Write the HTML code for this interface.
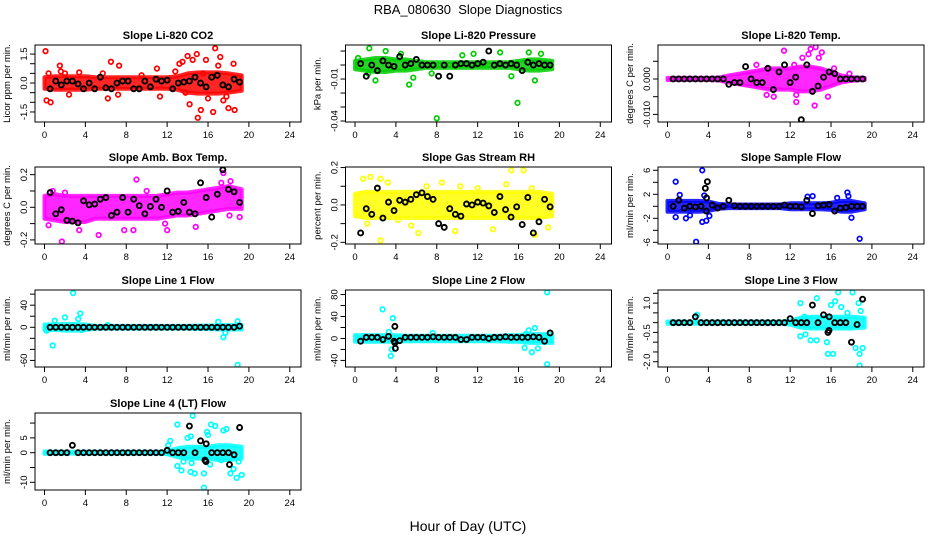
<!DOCTYPE html>
<html><head><meta charset="utf-8">
<style>
html,body{margin:0;padding:0;background:#fff;}
svg{display:block;font-family:"Liberation Sans",sans-serif;}
</style></head>
<body>
<svg id="chart" width="936" height="540" viewBox="0 0 936 540">
<rect width="936" height="540" fill="#fff"/>
<text x="468" y="14" font-size="13" text-anchor="middle" xml:space="preserve">RBA_080630  Slope Diagnostics</text>
<text x="468" y="531" font-size="14" text-anchor="middle">Hour of Day (UTC)</text>
</svg>
<script>
// ---- shared x axis data ----
const xTicks = [0,4,8,12,16,20,24];
// black (averaged) points are at regular times
const blackTimes = [0.55,1.1,1.64,2.19,2.73,3.28,3.82,4.37,4.91,5.46,6.0,6.55,7.09,7.64,8.18,8.73,9.27,9.82,10.36,10.91,11.45,12.0,12.54,13.09,13.63,14.18,14.73,15.27,15.82,16.36,16.91,17.45,18.0,18.55,19.09];
// band hours for dense coloured cloud
const bandHours = [0,1,2,3,4,5,6,7,8,9,10,11,12,13,14,15,16,17,18,19.3];

// ---- panel 1: CO2 ----
const co2Black = [-0.3,0.1,-0.1,0.1,0.1,-0.05,-0.3,0,-0.3,0.3,-0.25,-0.3,0,0.1,0.1,-0.3,-0.3,0.1,-0.2,0.2,0.1,0.15,-0.3,0,0.05,0.1,0.3,0,-0.2,0.3,0.4,-0.1,-0.2,0.2,0.05];
const co2Spread = [0.3,0.35,0.35,0.35,0.35,0.3,0.3,0.3,0.3,0.3,0.3,0.3,0.3,0.35,0.5,0.55,0.55,0.55,0.5,0.4];
const co2Center = [0,0,0,0,0,0,0,0,0,0,0,0,0,0,0,0,0,0,0,0];
const co2Out = [[0.1,1.65],[0.2,-0.9],[0.6,-1.0],[1.5,0.9],[1.6,0.6],[2,0.5],[2.4,-0.6],[3.4,0.55],[6.2,-0.8],[6.5,1.1],[7.3,0.9],[7.2,-0.6],[11,0.75],[11.3,-0.7],[13.2,1.0],[13.5,1.1],[14,1.4],[14.2,-1.1],[14.5,1.2],[14.9,1.5],[15,-1.8],[15.3,-1.4],[15.8,1.2],[16.7,1.8],[16.5,-1.5],[17.2,1.35],[17,0.9],[17.5,-0.9],[18,-1.3],[18.6,-1.4],[18.5,1.0],[16,-0.8],[17.8,-0.7],[12.8,0.6],[15.5,0.5],[13.8,-0.5],[0.4,0.5],[5.7,0.5],[9.5,0.4]];
// ---- panel 2: Pressure ----
const presBlack = [0.001,-0.008,0,-0.004,0.003,0,-0.001,0.006,0,0.001,0.004,0,0,0,-0.008,0,-0.008,0,0.001,0.001,0,0.001,0.002,0.01,0,0.001,0,0.001,0,-0.004,0.002,0,0.001,0,0];
const presSpread = [0.003,0.004,0.005,0.005,0.004,0.004,0.003,0.002,0.002,0.002,0.002,0.002,0.002,0.002,0.002,0.002,0.003,0.004,0.004,0.003];
const presCenter = [0,0,0,0,0,0,0,0,0,0,0,0,0,0,0,0,0,0,0,0];
const presOut = [[1.4,0.012],[2.0,-0.011],[5.3,-0.014],[8,-0.038],[15.9,-0.027],[17.6,-0.011],[17,0.009],[14.2,0.009],[11.6,0.008],[18.2,0.008],[4.5,0.008],[3,0.01],[15.3,-0.008],[5.7,-0.009],[0.3,0.005],[1.3,-0.006],[10.5,0.007],[7.5,-0.006]];
// ---- panel 3: Li-820 Temp ----
const tempBlack = [0,0,0,0,0,0,0,0,0,0,-0.0015,-0.001,-0.001,0.0035,0,-0.001,-0.001,0.003,-0.003,0.002,0.004,-0.001,0.0005,-0.0115,0.004,-0.0035,-0.002,0.0005,0.002,0.0015,0,0,0,0,0];
const tempSpread = [0.0003,0.0003,0.0003,0.0003,0.0003,0.0004,0.001,0.0015,0.002,0.0025,0.003,0.003,0.003,0.0035,0.0035,0.003,0.002,0.001,0.0005,0.0003];
const tempCenter = [0,0,0,0,0,0,0,0,0,0,0,0,0,0,0,0,0,0,0,0];
const tempOut = [[11.4,0.008],[14,0.0085],[14.5,0.009],[15.1,0.0075],[13.2,0.006],[9.7,-0.0045],[12.6,-0.0045],[12.6,-0.0065],[14.4,-0.0075],[10.4,-0.005],[15.7,-0.005],[8.7,0.004],[13.8,0.007],[16.3,0.003],[17.8,0.0015],[14.8,0.006],[12.4,0.004]];
// ---- panel 4: Amb box temp ----
const ambBlack = [0.09,-0.04,-0.015,-0.08,-0.085,-0.095,0.04,0.015,0.02,0.05,0.06,-0.05,-0.03,0.06,-0.03,0.05,0.01,-0.04,0.005,0.05,0,0.1,-0.03,-0.025,0.03,-0.03,-0.04,0.15,0.06,-0.06,0.08,0.23,0.11,0.095,0.03];
const ambSpread = [0.07,0.08,0.08,0.08,0.08,0.07,0.07,0.07,0.07,0.07,0.07,0.07,0.07,0.07,0.07,0.07,0.07,0.07,0.07,0.06];
const ambCenter = [0,0,-0.01,-0.01,-0.01,0,0,0,0,0,0,0,0.01,0.02,0.02,0.03,0.04,0.05,0.06,0.05];
const ambOut = [[1.7,-0.21],[5.3,-0.17],[3.4,-0.14],[7.8,-0.14],[0.4,-0.11],[9,0.17],[17.5,0.21],[17.3,0.15],[18.2,0.16],[2,0.09],[12,-0.14],[14.8,-0.12],[18.1,-0.05],[19.1,-0.06],[8.7,-0.14],[10,0.1],[0.8,0.1],[11.8,-0.1]];
// ---- panel 5: Gas stream RH ----
const rhBlack = [-0.15,-0.02,-0.05,0.09,-0.07,0.015,-0.03,0.025,0.015,0.03,0.055,0.065,0.045,0.03,-0.1,-0.12,-0.02,-0.05,-0.06,0.005,0,0.015,0.01,-0.005,-0.04,0.045,-0.025,-0.065,-0.01,-0.105,0.04,-0.15,-0.09,0.03,-0.01];
const rhSpread = [0.06,0.07,0.07,0.07,0.07,0.07,0.07,0.07,0.07,0.07,0.07,0.07,0.07,0.07,0.07,0.07,0.07,0.07,0.07,0.06];
const rhCenter = [0,0,0,0,0,0,0,0,0,0,0,0,0,0,0,0,0,0,0,0];
const rhOut = [[2.5,-0.19],[15.3,0.185],[16.5,0.185],[0.8,0.14],[1.5,0.15],[2.5,0.14],[4.2,-0.08],[5.5,-0.11],[6.2,-0.15],[8.5,0.12],[9.8,-0.14],[13.5,-0.13],[17.6,-0.16],[18.9,-0.12],[1.2,-0.1],[10.3,0.1],[14.8,0.11],[17.3,0.09],[3.2,0.12],[7,0.1],[12,0.09]];
// ---- panel 6: Sample flow ----
const sampBlack = [0,1.0,-0.3,0,-0.1,0,1.4,0.2,-0.3,0,1.0,0.1,0,0,0,0,0,0,0,0,0.2,0,0,-0.1,1.0,-1.2,0.1,0.2,0.3,-0.8,-0.3,-0.2,0,0,0];
const sampBlackOut = [[3.9,4.1],[3.7,3.0],[3.8,-0.8]];
const sampSpread = [0.9,0.9,0.9,0.9,0.8,0.4,0.3,0.3,0.3,0.3,0.3,0.3,0.5,0.5,0.5,0.5,0.6,0.9,0.9,0.5];
const sampCenter = [0,0,0,0,0,0,0,0,0,0,0,0,0,0,0,0,0,0,0,0];
const sampOut = [[0.8,4.1],[3.4,6],[2.8,-5.9],[18.8,-5.4],[3.4,-2.6],[3.8,-2.4],[1.8,-2],[0.8,-1.8],[1.2,1.9],[17.6,2.3],[17.7,1.7],[18,-1.9],[13.7,1.6],[14.2,1.7],[16.6,1.4],[2.2,-1.5],[3.6,1.8],[4.1,-1.6]];
// ---- panel 7: Line 1 flow ----
const l1Black = [0,0,0,0,0,0,0,0,0,0,0,0,0,0,0,0,0,0,0,0,0,0,0,0,0,0,0,0,0,0,0,0,0,0,2];
const l1Spread = [5,5,6,6,5,2.5,2.5,2.5,2.5,2.5,2.5,2.5,2.5,2.5,2.5,3,3,4,4,4];
const l1Center = [0,0,0,0,0,0,0,0,0,0,0,0,0,0,0,0,0,0,0,0];
const l1Out = [[2.8,62],[0.8,-33],[3.5,25],[3.3,15],[2,18],[1,12],[17.5,-18],[18.9,-68],[17,10],[18.9,11],[0.2,-6],[6.2,4],[3.6,-5],[17.7,-10]];
// ---- panel 8: Line 2 flow ----
const l2Black = [-5,2,2,2,-2,4,-5,-4,2,2,2,2,2,3,2,2,2,2,-2,-2,2,2,2,0,2,2,3,2,2,2,2,3,2,-5,10];
const l2BlackOut = [[3.9,22],[3.95,-18],[3.9,-8]];
const l2Spread = [6,6,6,6,6,5,5,5,5,5,5,5,5,5,5,6,6,8,8,8];
const l2Center = [0,0,0,0,0,0,0,0,0,0,0,0,0,0,0,0,0,0,0,0];
const l2Out = [[2.7,53],[3.7,37],[3.5,-32],[3.6,-20],[18.8,84],[18.8,-47],[17,15],[17.6,19],[16.6,-17],[17.3,-25],[17.9,-18],[3.3,12],[16.7,8],[18.3,-3],[7.6,10]];
// ---- panel 9: Line 3 flow ----
const l3Black = [0,0,0,0,0.3,0,0,0,0,0,0,0,0,0,0,0,0,0,0,0,0,0.2,0,0,0,0.9,0,0.4,0.3,0,0,0,-1.0,-0.1,1.2];
const l3BlackOut = [[15.8,-0.4],[15.7,-0.5]];
const l3Spread = [0.06,0.06,0.05,0.05,0.05,0.05,0.05,0.05,0.05,0.05,0.05,0.05,0.1,0.25,0.3,0.3,0.3,0.3,0.3,0.25];
const l3Center = [0,0,0,0,0,0,0,0,0,0,0,0,0,0,0,0,0,0,0,0];
const l3Out = [[13.0,1.0],[14.6,1.25],[16.7,1.55],[18.1,1.55],[16,0.9],[16.4,1.1],[18.7,1.0],[15.7,-1.6],[16.2,-1.6],[18.8,-1.6],[18.8,-2.2],[13,-0.7],[14,-0.9],[14.6,-0.9],[15.6,-1.0],[18.4,-1.3],[19.1,-1.3],[17.6,0.5],[18.9,0.6],[13.5,-0.6],[17,0.8],[13.4,0.3],[2.9,0.4]];
// ---- panel 10: Line 4 flow ----
const l4Black = [0,0,0,0,2.5,0,0,0,0,0,0,0,0,0,0,0,0,0,0,0,0,0.8,0,0,0,9,0,4,3,0,0,0,0,-0.7,8.5];
const l4BlackOut = [[15.8,-3],[15.7,-2.5],[18.1,-4]];
const l4Spread = [0.4,0.3,0.3,0.3,0.3,0.3,0.3,0.3,0.3,0.3,0.3,0.3,0.5,1.5,2,2,2,2.5,2.5,2];
const l4Center = [0,0,0,0,0,0,0,0,0,0,0,0,0,0,0,0,0,0,0,0];
const l4Out = [[14.5,12.5],[13,9.5],[16.3,9.5],[16.7,9],[17.5,7.5],[17.8,8],[15.9,7],[16,6],[14,5],[14.3,5.5],[12.3,4],[12.1,2.5],[13,-4.5],[13.4,-6],[14.3,-6.5],[14.7,-7],[15.6,-7],[15.6,-11.8],[18.2,-7],[18.8,-8.5],[19.3,-7.5],[19,-3],[16.2,-4],[17.3,-2.5],[13.6,-3],[14.4,-3.5],[18.5,-5.5]];

const panels = [
 {name:'co2',title:'Slope Li-820 CO2',ylab:'Licor ppm per min.',L:35,T:45,ymin:-2.02,ymax:1.97,color:'#ff0000',ticks:[-1.5,-1,-0.5,0,0.5,1,1.5],labels:{'-1.5':'-1.5','0':'0.0','1.5':'1.5'},black:co2Black,bo:[],spread:co2Spread,center:co2Center,out:co2Out},
 {name:'pressure',title:'Slope Li-820 Pressure',ylab:'kPa per min.',L:345.5,T:45,ymin:-0.0407,ymax:0.0143,color:'#00cc00',ticks:[0.01,0,-0.01,-0.02,-0.03,-0.04],labels:{'-0.01':'-0.01','-0.04':'-0.04'},black:presBlack,bo:[],spread:presSpread,center:presCenter,out:presOut},
 {name:'li820-temp',title:'Slope Li-820 Temp.',ylab:'degrees C per min.',L:658,T:45,ymin:-0.01215,ymax:0.0096,color:'#ff00ff',ticks:[0.005,0,-0.005,-0.01],labels:{'0':'0.000','-0.01':'-0.010'},black:tempBlack,bo:[],spread:tempSpread,center:tempCenter,out:tempOut},
 {name:'amb-box-temp',title:'Slope Amb. Box Temp.',ylab:'degrees C per min.',L:35,T:167,ymin:-0.225,ymax:0.247,color:'#ff00ff',ticks:[0.2,0.1,0,-0.1,-0.2],labels:{'0.2':'0.2','0':'0.0','-0.2':'-0.2'},black:ambBlack,bo:[],spread:ambSpread,center:ambCenter,out:ambOut},
 {name:'gas-stream-rh',title:'Slope Gas Stream RH',ylab:'percent per min.',L:345.5,T:167,ymin:-0.209,ymax:0.203,color:'#ffff00',ticks:[0.2,0.1,0,-0.1,-0.2],labels:{'0.2':'0.2','0':'0.0','-0.2':'-0.2'},black:rhBlack,bo:[],spread:rhSpread,center:rhCenter,out:rhOut},
 {name:'sample-flow',title:'Slope Sample Flow',ylab:'ml/min per min.',L:658,T:167,ymin:-6.28,ymax:6.55,color:'#0000ff',ticks:[6,4,2,0,-2,-4,-6],labels:{'6':'6','2':'2','-2':'-2','-6':'-6'},black:sampBlack,bo:sampBlackOut,spread:sampSpread,center:sampCenter,out:sampOut},
 {name:'line1-flow',title:'Slope Line 1 Flow',ylab:'ml/min per min.',L:35,T:290,ymin:-71.9,ymax:67.5,color:'#00ffff',ticks:[60,40,20,0,-20,-40,-60],labels:{'40':'40','0':'0','-60':'-60'},black:l1Black,bo:[],spread:l1Spread,center:l1Center,out:l1Out},
 {name:'line2-flow',title:'Slope Line 2 Flow',ylab:'ml/min per min.',L:345.5,T:290,ymin:-52,ymax:88.3,color:'#00ffff',ticks:[80,60,40,20,0,-20,-40],labels:{'80':'80','40':'40','0':'0','-40':'-40'},black:l2Black,bo:l2BlackOut,spread:l2Spread,center:l2Center,out:l2Out},
 {name:'line3-flow',title:'Slope Line 3 Flow',ylab:'ml/min per min.',L:658,T:290,ymin:-2.27,ymax:1.67,color:'#00ffff',ticks:[1.5,1,0.5,0,-0.5,-1,-1.5,-2],labels:{'1':'1.0','-0.5':'-0.5','-2':'-2.0'},black:l3Black,bo:l3BlackOut,spread:l3Spread,center:l3Center,out:l3Out},
 {name:'line4-flow',title:'Slope Line 4 (LT) Flow',ylab:'ml/min per min.',L:35,T:413,ymin:-12.6,ymax:13.4,color:'#00ffff',ticks:[10,5,0,-5,-10],labels:{'5':'5','0':'0','-10':'-10'},black:l4Black,bo:l4BlackOut,spread:l4Spread,center:l4Center,out:l4Out}
];

const NS='http://www.w3.org/2000/svg';
const svg=document.getElementById('chart');
const W=266,H=77;
function mk(tag,attrs,parent){const e=document.createElementNS(NS,tag);for(const k in attrs)e.setAttribute(k,attrs[k]);parent.appendChild(e);return e;}

panels.forEach(p=>{
  const g=mk('g',{},svg);
  
  
  const xs=t=>p.L+9.5+t*10.22;
  const ys=v=>p.T+H-(v-p.ymin)/(p.ymax-p.ymin)*H;
  const clip='clip-'+p.name;
  const cp=mk('clipPath',{id:clip},g);
  mk('rect',{x:p.L,y:p.T,width:W,height:H},cp);
  const plot=mk('g',{'clip-path':'url(#'+clip+')'},g);
  
  
  let up=[],dn=[];
  bandHours.forEach((h,i)=>{up.push(xs(h)+','+ys(p.center[i]+p.spread[i]));dn.unshift(xs(h)+','+ys(p.center[i]-p.spread[i]));});
  const band=mk('polygon',{points:up.concat(dn).join(' '),fill:p.color,'fill-opacity':0.85,stroke:p.color,'stroke-width':4,'stroke-opacity':0.85,'stroke-linejoin':'round'},plot);
  
  
  p.out.forEach(d=>{
    const c=mk('circle',{cx:xs(d[0]),cy:ys(d[1]),r:2.3,fill:'none',stroke:p.color,'stroke-width':1.7},plot);
    
    
  });
  p.black.forEach((v,i)=>{
    const c=mk('circle',{cx:xs(blackTimes[i]),cy:ys(v),r:2.5,fill:'none',stroke:'#000','stroke-width':1.9},plot);
    
    
  });
  p.bo.forEach(d=>{
    const c=mk('circle',{cx:xs(d[0]),cy:ys(d[1]),r:2.5,fill:'none',stroke:'#000','stroke-width':1.9},plot);
    
    
  });
  const fr=mk('rect',{x:p.L,y:p.T,width:W,height:H,fill:'none',stroke:'#000','stroke-width':1},g);
  
  
  const ti=mk('text',{x:p.L+W/2,y:p.T-6,'font-size':11,'font-weight':'bold','text-anchor':'middle'},g);
  ti.textContent=p.title;
  
  
  mk('line',{x1:xs(0),x2:xs(24),y1:p.T+H,y2:p.T+H,stroke:'#000'},g);
  xTicks.forEach(t=>{
    mk('line',{x1:xs(t),x2:xs(t),y1:p.T+H,y2:p.T+H+5,stroke:'#000'},g);
    const tx=mk('text',{x:xs(t),y:p.T+H+16,'font-size':9.5,'text-anchor':'middle'},g);
    tx.textContent=t;
    
    
  });
  const tv=p.ticks;
  mk('line',{x1:p.L,x2:p.L,y1:ys(Math.min(...tv)),y2:ys(Math.max(...tv)),stroke:'#000'},g);
  tv.forEach(v=>{
    const y=ys(v);
    mk('line',{x1:p.L-5,x2:p.L,y1:y,y2:y,stroke:'#000'},g);
    const key=String(v);
    if(p.labels[key]!==undefined){
      const tx=mk('text',{x:0,y:0,'font-size':9.5,'text-anchor':'middle',transform:'translate('+(p.L-8)+','+y+') rotate(-90)'},g);
      tx.textContent=p.labels[key];
      
      
    }
  });
  const yl=mk('text',{x:0,y:0,'font-size':9.5,'text-anchor':'middle',transform:'translate('+(p.L-25)+','+(p.T+H/2)+') rotate(-90)'},g);
  yl.textContent=p.ylab;
  
  
});
</script>
</body></html>
